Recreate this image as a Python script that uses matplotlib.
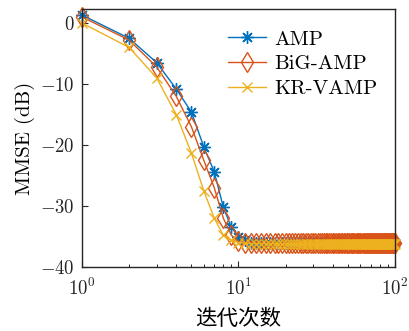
import numpy as np
import matplotlib
matplotlib.use("Agg")
import matplotlib.pyplot as plt

plt.rcParams['font.family'] = ['cmr10', 'Noto Sans CJK SC']
plt.rcParams['mathtext.fontset'] = 'cm'
plt.rcParams['axes.formatter.use_mathtext'] = True
plt.rcParams['axes.unicode_minus'] = True

iters = np.arange(1, 101)
amp_head = [1.3, -2.5, -6.5, -10.8, -14.6, -20.3, -24.4, -30.2, -33.5, -35.0, -35.6]
big_head = [1.0, -2.8, -7.2, -12.0, -17.0, -22.5, -27.0, -32.0, -34.8, -35.8, -36.0]
kr_head = [0.0, -4.0, -9.0, -15.0, -21.3, -27.5, -32.0, -34.8, -35.6, -36.0, -36.1]
amp_tail = -36.0
big_tail = -36.1
kr_tail = -36.2

amp = np.array(amp_head + [amp_tail] * (100 - len(amp_head)))
big = np.array(big_head + [big_tail] * (100 - len(big_head)))
kr = np.array(kr_head + [kr_tail] * (100 - len(kr_head)))

c_amp = (0.0, 0.447, 0.741)
c_big = (0.85, 0.325, 0.098)
c_kr = (0.929, 0.694, 0.125)

fig = plt.figure(figsize=(4.1, 3.31), dpi=100)
ax = fig.add_axes([82/410, 1 - 267/331, (395-82)/410, (267-9)/331])

ax.plot(iters, amp, '-', color=c_amp, marker=(8, 2, 0), markersize=9, markeredgewidth=1.0,
        lw=1.0, label='AMP', clip_on=False)
ax.plot(iters, big, '-', color=c_big, marker='d', markersize=10.5, markerfacecolor='none',
        markeredgewidth=1.0, lw=1.0, label='BiG-AMP', clip_on=False)
ax.plot(iters, kr, '-', color=c_kr, marker='x', markersize=7, markeredgewidth=1.0,
        lw=1.0, label='KR-VAMP', clip_on=False)

ax.set_xscale('log')
ax.set_xlim(1, 100)
ax.set_ylim(-40, 2.3)
ax.set_yticks([-40, -30, -20, -10, 0])
ax.tick_params(direction='in', labelsize=13.5, length=4, top=False, right=False,
               colors='#262626', pad=5)
ax.tick_params(axis='x', pad=8)
ax.tick_params(which='minor', direction='in', length=2.5, top=False, right=False)
for s in ax.spines.values():
    s.set_color('#262626')
    s.set_linewidth(1.0)

ax.set_xlabel('迭代次数', fontsize=15.5, family=['Noto Sans CJK SC'], labelpad=6)
ax.set_ylabel('MMSE (dB)', fontsize=15, labelpad=4)

leg = ax.legend(loc='upper right', bbox_to_anchor=(0.99, 0.975), frameon=False, fontsize=15,
                handlelength=1.8, handletextpad=0.4, labelspacing=0.3, borderaxespad=0.3)

fig.savefig('out.png', dpi=100)
